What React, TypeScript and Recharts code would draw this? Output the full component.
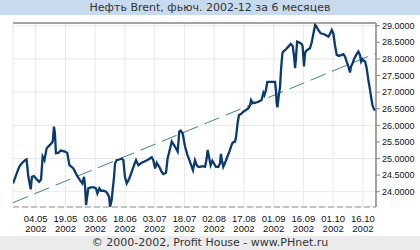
import React from 'react'
import {
  LineChart,
  Line,
  XAxis,
  YAxis,
  CartesianGrid,
  ReferenceLine,
} from 'recharts'

// day of year 2002 and settlement prices
const days = [
  112.6, 114.7, 115.7, 116.9, 118.6, 119.4, 120.3, 121.5, 122.1, 123.1,
  124.5, 125.7, 126.7, 127.5, 128.4, 129.5, 131.2, 132.6, 133.2, 133.7,
  134.2, 135.4, 136.6, 138.8, 139.9, 141.0, 143.0, 144.7, 146.3, 147.5,
  148.4, 148.9, 149.4, 150.5, 151.7, 153.4, 154.4, 155.1, 156.1, 156.9,
  158.1, 159.5, 160.1, 161.0, 161.5, 162.3, 162.8, 163.5, 164.0, 164.8,
  166.2, 167.4, 168.2, 169.0, 169.9, 171.2, 172.4, 173.6, 174.6, 175.8,
  177.4, 179.1, 180.8, 182.5, 183.3, 184.2, 185.0, 186.3, 187.5, 188.4,
  189.7, 190.5, 191.4, 192.6, 193.7, 194.7, 195.6, 196.4, 197.1, 198.1,
  199.3, 200.5, 201.8, 203.3, 204.3, 205.2, 206.0, 206.9, 208.2, 209.4,
  210.2, 210.7, 211.4, 212.2, 213.1, 213.9, 214.9, 216.1, 216.9, 217.4,
  217.9, 218.6, 219.5, 220.3, 221.6, 222.8, 223.3, 224.5, 225.0, 225.8,
  226.5, 227.5, 228.7, 230.0, 231.2, 232.1, 232.6, 233.4, 234.6, 236.3,
  237.9, 238.8, 239.3, 240.1, 240.8, 242.2, 243.8, 244.7, 245.2, 245.5,
  245.9, 246.5, 247.2, 247.7, 248.4, 248.9, 250.2, 251.4, 252.6, 253.6,
  254.3, 254.8, 255.3, 255.8, 257.0, 258.1, 258.6, 259.3, 259.8, 260.3,
  261.5, 262.3, 263.2, 264.0, 264.9, 265.4, 266.5, 267.7, 269.1, 270.2,
  271.6, 272.4, 273.3, 274.1, 274.9, 275.8, 277.0, 278.3, 279.1, 280.0,
  280.8, 281.7, 282.5, 283.0, 283.8, 284.7, 285.9, 286.7, 287.5, 288.1,
  288.7, 289.2, 290.1, 290.9, 291.7, 292.6, 293.1, 293.8, 294.6, 295.6,
]

const prices = [
  24.25, 24.6, 24.75, 24.85, 24.95, 24.97, 24.45, 24.07, 24.45, 24.47,
  24.37, 24.3, 24.37, 25.06, 24.95, 25.31, 25.41, 25.51, 25.96, 25.76,
  25.16, 25.17, 25.24, 25.21, 25.17, 24.8, 24.7, 24.5, 24.35, 24.25,
  24.45, 24.15, 23.6, 24.1, 24.13, 24.13, 24.1, 23.95, 24.1, 24.03,
  24.03, 24.0, 23.95, 23.85, 23.55, 23.75, 24.05, 24.45, 24.85, 24.95,
  24.97, 25.0, 24.95, 24.45, 24.25, 24.4, 24.6, 24.8, 24.95, 24.8,
  24.87, 24.92, 24.97, 25.04, 24.95, 24.7, 24.87, 24.75, 24.6, 24.53,
  24.57, 25.0, 25.21, 25.51, 25.41, 25.31, 25.21, 25.81, 25.84, 25.76,
  25.36, 25.11, 24.9, 24.65, 24.95, 24.8, 24.75, 24.75, 24.77, 24.75,
  25.0, 25.26, 25.05, 24.8, 24.93, 24.85, 24.75, 24.75, 24.85, 25.14,
  24.95, 24.75, 24.87, 25.0, 25.2, 25.41, 25.48, 25.51, 25.64, 26.06,
  26.31, 26.34, 26.41, 26.46, 26.51, 26.61, 26.76, 26.68, 26.68, 26.71,
  26.76, 26.98, 26.91, 27.06, 27.31, 27.31, 27.31, 27.31, 27.01, 26.66,
  26.54, 26.86, 27.16, 27.67, 28.17, 28.22, 28.29, 28.37, 28.45, 28.39,
  28.07, 27.72, 28.07, 28.52, 28.49, 28.45, 28.37, 27.77, 28.17, 28.24,
  28.29, 28.32, 28.5, 28.75, 29.02, 28.99, 28.87, 28.77, 28.75, 28.72,
  28.67, 28.75, 28.87, 28.77, 28.42, 28.12, 28.09, 28.12, 28.14, 28.07,
  27.92, 27.77, 27.59, 27.77, 27.87, 28.02, 28.15, 28.22, 28.12, 27.92,
  27.99, 27.95, 27.92, 27.72, 27.38, 27.06, 26.86, 26.61, 26.48, 26.46,
]

const tickDays = [124, 139, 154, 169, 184, 199, 214, 229, 244, 259, 274, 289]
const tickLabels = [
  '04.05', '19.05', '03.06', '18.06', '03.07', '18.07',
  '02.08', '17.08', '01.09', '16.09', '01.10', '16.10',
]
const yTicks = [24, 24.5, 25, 25.5, 26, 26.5, 27, 27.5, 28, 28.5, 29]

const trendDays = [112.55, 295.6]
const trendValues = [23.67, 28.17]

const xDomain = [112.55, 295.6]
const yDomain = [23.54, 29.081]

const data = days.map((d, i) => ({ day: d, price: prices[i] }))

const FONT = '"Liberation Sans", Arial, sans-serif'

function XTick(props: any) {
  const { x, y, payload } = props
  const i = tickDays.indexOf(payload.value)
  return (
    <text x={x} y={y} textAnchor="middle" fontSize={9.5} fill="#111" fontFamily={FONT}>
      <tspan x={x} dy={9}>{tickLabels[i]}</tspan>
      <tspan x={x} dy={10}>2002</tspan>
    </text>
  )
}

const noTick = () => <g />

export default function App() {
  return (
    <div
      style={{
        position: 'absolute',
        left: 0,
        top: 0,
        width: 420,
        height: 250,
        background: '#fff',
        overflow: 'hidden',
      }}
    >
      <div
        style={{
          position: 'absolute',
          left: 0,
          top: 0,
          width: 420,
          height: 15,
          background: '#c8daed',
          color: '#333',
          fontFamily: '"DejaVu Sans", sans-serif',
          fontSize: 11,
          lineHeight: '15px',
          textAlign: 'center',
        }}
      >
        Нефть Brent, фьюч. 2002-12 за 6 месяцев
      </div>
      <LineChart
        width={420}
        height={250}
        data={data}
        margin={{ top: 23, right: 0, left: 13, bottom: 14 }}
      >
        <CartesianGrid stroke="#e8e8e8" strokeWidth={1} />
        <XAxis
          dataKey="day"
          type="number"
          domain={xDomain}
          ticks={tickDays}
          tick={<XTick />}
          tickLine={false}
          tickSize={4}
          tickMargin={2}
          height={29}
          axisLine={{ stroke: '#b4b4b4', strokeDasharray: '6 3', strokeWidth: 1.5 }}
          allowDataOverflow
        />
        <YAxis
          orientation="right"
          domain={yDomain}
          ticks={yTicks}
          width={44}
          allowDataOverflow
          tickFormatter={(v: number) => v.toFixed(4)}
          tick={{ fontSize: 9, fill: '#111', fontFamily: FONT }}
          tickSize={4}
          tickMargin={2}
          axisLine={{ stroke: '#8a8a8a', strokeWidth: 1.5 }}
          tickLine={{ stroke: '#8a8a8a' }}
        />
        <YAxis
          yAxisId="left"
          orientation="left"
          domain={yDomain}
          ticks={yTicks}
          width={0}
          allowDataOverflow
          tick={noTick}
          tickSize={3}
          axisLine={{ stroke: '#8a8a8a', strokeWidth: 1.5 }}
          tickLine={{ stroke: '#8a8a8a' }}
        />
        <ReferenceLine y={yDomain[1]} stroke="#8a8a8a" strokeWidth={1.5} ifOverflow="visible" />
        <ReferenceLine
          segment={[
            { x: trendDays[0], y: trendValues[0] },
            { x: trendDays[1], y: trendValues[1] },
          ]}
          stroke="#3a8580"
          strokeWidth={1}
          strokeDasharray="16 7"
          ifOverflow="visible"
        />
        <Line
          type="linear"
          dataKey="price"
          stroke="#0a3a6e"
          strokeWidth={2.3}
          dot={false}
          activeDot={false}
          isAnimationActive={false}
        />
      </LineChart>
      <div
        style={{
          position: 'absolute',
          left: 0,
          top: 236,
          width: 420,
          height: 14,
          background: '#ebebeb',
          color: '#333',
          fontFamily: '"DejaVu Sans", sans-serif',
          fontSize: 11,
          lineHeight: '14px',
          textAlign: 'center',
        }}
      >
        © 2000-2002, Profit House - www.PHnet.ru
      </div>
    </div>
  )
}
